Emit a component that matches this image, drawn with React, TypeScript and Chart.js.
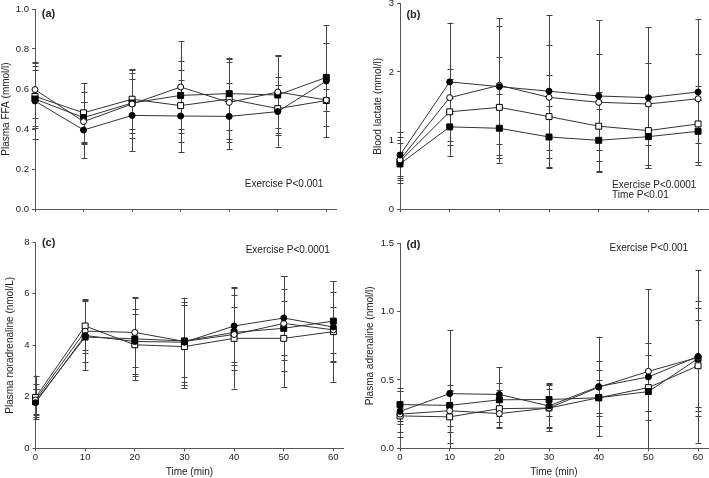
import React, { useEffect, useRef } from "react";
import { Chart, registerables } from "chart.js";

Chart.register(...registerables);

const FONT = "'Liberation Sans', Arial, Helvetica, sans-serif";
const TEXT = "#222222";
const AXIS = "#555555";

// Time points (min)
const timePoints = [0, 10, 20, 30, 40, 50, 60];
const xTickValues = [0, 10, 20, 30, 40, 50, 60];

// (a) Plasma FFA (mmol/l)
const ffaFilledCircle = [0.54, 0.395, 0.468, 0.465, 0.463, 0.487, 0.64];
const ffaFilledCircleErr = [0.19, 0.14, 0.18, 0.18, 0.165, 0.175, 0.28];
const ffaOpenCircle = [0.597, 0.437, 0.525, 0.61, 0.533, 0.585, 0.545];
const ffaOpenCircleErr = [0.14, 0.1, 0.17, 0.23, 0.2, 0.18, 0.055];
const ffaFilledSquare = [0.55, 0.457, 0.53, 0.568, 0.577, 0.57, 0.658];
const ffaFilledSquareErr = [0.145, 0.13, 0.15, 0.17, 0.18, 0.2, 0.17];
const ffaOpenSquare = [0.563, 0.481, 0.549, 0.517, 0.55, 0.502, 0.542];
const ffaOpenSquareErr = [0.15, 0.15, 0.15, 0.18, 0.2, 0.12, 0.125];

// (b) Blood lactate (mmol/l)
const lacFilledCircle = [0.79, 1.855, 1.786, 1.72, 1.65, 1.626, 1.709];
const lacFilledCircleErr = [0.34, 0.865, 1.0, 1.11, 1.1, 1.03, 1.06];
const lacOpenCircle = [0.72, 1.626, 1.806, 1.63, 1.558, 1.534, 1.61];
const lacOpenCircleErr = [0.34, 0.42, 0.86, 0.76, 0.7, 0.6, 0.65];
const lacFilledSquare = [0.66, 1.2, 1.18, 1.053, 1.005, 1.058, 1.136];
const lacFilledSquareErr = [0.18, 0.42, 0.5, 0.45, 0.45, 0.45, 0.45];
const lacOpenSquare = [0.7, 1.42, 1.485, 1.35, 1.21, 1.146, 1.243];
const lacOpenSquareErr = [0.27, 0.48, 0.74, 0.6, 0.5, 0.5, 0.55];

// (c) Plasma noradrenaline (nmol/L)
const norFilledCircle = [1.77, 4.38, 4.15, 4.12, 4.75, 5.06, 4.71];
const norFilledCircleErr = [0.55, 1.35, 1.25, 1.55, 1.5, 1.62, 1.35];
const norOpenCircle = [1.88, 4.55, 4.5, 4.15, 4.42, 4.85, 4.6];
const norOpenCircleErr = [0.6, 1.2, 1.36, 1.7, 1.05, 1.83, 0.9];
const norFilledSquare = [1.82, 4.32, 4.25, 4.17, 4.5, 4.66, 4.94];
const norFilledSquareErr = [0.5, 0.5, 1.6, 1.4, 1.45, 1.05, 1.56];
const norOpenSquare = [1.97, 4.75, 4.02, 3.95, 4.27, 4.27, 4.53];
const norOpenSquareErr = [0.85, 1.05, 1.2, 1.6, 1.95, 1.9, 1.95];

// (d) Plasma adrenaline (nmol/l)
const adrFilledCircle = [0.27, 0.4, 0.394, 0.31, 0.452, 0.522, 0.672];
const adrFilledCircleErr = [0.15, 0.465, 0.2, 0.16, 0.365, 0.25, 0.632];
const adrOpenCircle = [0.25, 0.275, 0.254, 0.295, 0.447, 0.563, 0.665];
const adrOpenCircleErr = [0.17, 0.155, 0.1, 0.14, 0.19, 0.6, 0.36];
const adrFilledSquare = [0.32, 0.314, 0.355, 0.357, 0.37, 0.415, 0.657];
const adrFilledSquareErr = [0.12, 0.15, 0.12, 0.12, 0.205, 0.14, 0.418];
const adrOpenSquare = [0.237, 0.23, 0.29, 0.295, 0.37, 0.444, 0.604];
const adrOpenSquareErr = [0.06, 0.19, 0.14, 0.17, 0.13, 0.24, 0.334];

type Note = { text: string; x: number; y: number; align: CanvasTextAlign; bold?: boolean };

type PanelDef = {
  key: string;
  left: number;
  top: number;
  width: number;
  height: number;
  yAxisWidth: number;
  xAxisHeight: number;
  padTop: number;
  padRight: number;
  yMin: number;
  yMax: number;
  yStep: number;
  yDecimals: number;
  yTitle: string;
  yTitlePad: number;
  showX: boolean;
  series: { values: number[]; errors: number[] }[];
  notes: Note[];
};

const markerStyles = [
  { pointStyle: "circle", fill: "#000000", radius: 3 },
  { pointStyle: "circle", fill: "#ffffff", radius: 3 },
  { pointStyle: "rect", fill: "#000000", radius: 4.2 },
  { pointStyle: "rect", fill: "#ffffff", radius: 4.2 },
];

const panels: PanelDef[] = [
  {
    key: "a", left: 0, top: 0, width: 354, height: 235,
    yAxisWidth: 35, xAxisHeight: 26, padTop: 9, padRight: 18,
    yMin: 0, yMax: 1, yStep: 0.2, yDecimals: 1,
    yTitle: "Plasma FFA (mmol/l)", yTitlePad: 0, showX: false,
    series: [
      { values: ffaFilledCircle, errors: ffaFilledCircleErr },
      { values: ffaOpenCircle, errors: ffaOpenCircleErr },
      { values: ffaFilledSquare, errors: ffaFilledSquareErr },
      { values: ffaOpenSquare, errors: ffaOpenSquareErr },
    ],
    notes: [
      { text: "(a)", x: 1.4, y: 0.975, align: "left", bold: true },
      { text: "Exercise P<0.001", x: 59.4, y: 0.125, align: "right" },
    ],
  },
  {
    key: "b", left: 355, top: 0, width: 354, height: 235,
    yAxisWidth: 45, xAxisHeight: 25.7, padTop: 3.3, padRight: 1,
    yMin: 0, yMax: 3, yStep: 1, yDecimals: 0,
    yTitle: "Blood lactate (mmol/l)", yTitlePad: 17, showX: false,
    series: [
      { values: lacFilledCircle, errors: lacFilledCircleErr },
      { values: lacOpenCircle, errors: lacOpenCircleErr },
      { values: lacFilledSquare, errors: lacFilledSquareErr },
      { values: lacOpenSquare, errors: lacOpenSquareErr },
    ],
    notes: [
      { text: "(b)", x: 1.3, y: 2.83, align: "left", bold: true },
      { text: "Exercise P<0.0001", x: 42.7, y: 0.354, align: "left" },
      { text: "Time P<0.01", x: 42.7, y: 0.198, align: "left" },
    ],
  },
  {
    key: "c", left: 0, top: 235, width: 354, height: 243,
    yAxisWidth: 35.5, xAxisHeight: 29.7, padTop: 7.3, padRight: 10.7,
    yMin: 0, yMax: 8, yStep: 2, yDecimals: 0,
    yTitle: "Plasma noradrenaline (nmol/L)", yTitlePad: 4, showX: true,
    series: [
      { values: norFilledCircle, errors: norFilledCircleErr },
      { values: norOpenCircle, errors: norOpenCircleErr },
      { values: norFilledSquare, errors: norFilledSquareErr },
      { values: norOpenSquare, errors: norOpenSquareErr },
    ],
    notes: [
      { text: "(c)", x: 1.3, y: 7.97, align: "left", bold: true },
      { text: "Exercise P<0.0001", x: 59.3, y: 7.7, align: "right" },
    ],
  },
  {
    key: "d", left: 355, top: 235, width: 354, height: 243,
    yAxisWidth: 45, xAxisHeight: 29.7, padTop: 8.3, padRight: 1,
    yMin: 0, yMax: 1.5, yStep: 0.5, yDecimals: 1,
    yTitle: "Plasma adrenaline (nmol/l)", yTitlePad: 9, showX: true,
    series: [
      { values: adrFilledCircle, errors: adrFilledCircleErr },
      { values: adrOpenCircle, errors: adrOpenCircleErr },
      { values: adrFilledSquare, errors: adrFilledSquareErr },
      { values: adrOpenSquare, errors: adrOpenSquareErr },
    ],
    notes: [
      { text: "(d)", x: 1.3, y: 1.487, align: "left", bold: true },
      { text: "Exercise P<0.001", x: 58.0, y: 1.466, align: "right" },
    ],
  },
];

const errorBarPlugin = {
  id: "errorBars",
  beforeDatasetsDraw(chart: any) {
    const { ctx, scales } = chart;
    const xs = scales.x;
    const ys = scales.y;
    ctx.save();
    ctx.strokeStyle = "#444444";
    ctx.lineWidth = 1;
    chart.data.datasets.forEach((ds: any) => {
      const errs: number[] = ds.errorBars || [];
      ds.data.forEach((pt: any, i: number) => {
        const e = errs[i];
        if (e == null) return;
        const hi = pt.y + e;
        const lo = pt.y - e;
        const px = Math.round(xs.getPixelForValue(pt.x)) + 0.5;
        const yHi = ys.getPixelForValue(Math.min(hi, ys.max));
        const yLo = ys.getPixelForValue(Math.max(lo, ys.min));
        ctx.beginPath();
        ctx.moveTo(px, yHi);
        ctx.lineTo(px, yLo);
        if (hi <= ys.max) {
          const yy = Math.round(yHi) + 0.5;
          ctx.moveTo(px - 3, yy);
          ctx.lineTo(px + 3, yy);
        }
        if (lo >= ys.min) {
          const yy = Math.round(yLo) + 0.5;
          ctx.moveTo(px - 3, yy);
          ctx.lineTo(px + 3, yy);
        }
        ctx.stroke();
      });
    });
    ctx.restore();
  },
};

const notesPlugin = {
  id: "panelNotes",
  afterDraw(chart: any, _args: any, opts: any) {
    const notes: Note[] = opts.notes || [];
    const { ctx, scales } = chart;
    ctx.save();
    ctx.fillStyle = TEXT;
    ctx.textBaseline = "middle";
    notes.forEach((n) => {
      ctx.font = n.bold ? `bold 11px ${FONT}` : `10px ${FONT}`;
      ctx.textAlign = n.align;
      ctx.fillText(n.text, scales.x.getPixelForValue(n.x), scales.y.getPixelForValue(n.y));
    });
    ctx.restore();
  },
};

function Panel({ def }: { def: PanelDef }) {
  const ref = useRef<HTMLCanvasElement | null>(null);

  useEffect(() => {
    if (!ref.current) return;
    const datasets = def.series.map((s, si) => {
      const m = markerStyles[si];
      return {
        data: timePoints.map((t, i) => ({ x: t, y: s.values[i] })),
        errorBars: s.errors,
        borderColor: "#333333",
        borderWidth: 1,
        pointStyle: m.pointStyle,
        pointRadius: m.radius,
        pointHoverRadius: m.radius,
        pointBackgroundColor: m.fill,
        pointBorderColor: "#000000",
        pointBorderWidth: 1,
        fill: false,
        tension: 0,
        clip: false,
      };
    });

    const chart = new Chart(ref.current, {
      type: "line",
      data: { datasets } as any,
      plugins: [errorBarPlugin, notesPlugin],
      options: {
        animation: false,
        responsive: false,
        maintainAspectRatio: false,
        events: [],
        layout: {
          autoPadding: false,
          padding: { top: def.padTop, right: def.padRight, left: 0, bottom: 0 },
        },
        plugins: {
          legend: { display: false },
          tooltip: { enabled: false },
          panelNotes: { notes: def.notes },
        } as any,
        scales: {
          x: {
            type: "linear",
            min: 0,
            max: 62,
            afterBuildTicks: (s: any) => {
              s.ticks = xTickValues.map((v) => ({ value: v }));
            },
            afterFit: (s: any) => {
              s.height = def.xAxisHeight;
              s.paddingLeft = 0;
              s.paddingRight = 0;
            },
            ticks: {
              display: def.showX,
              autoSkip: false,
              maxRotation: 0,
              padding: 0,
              color: TEXT,
              font: { family: FONT, size: 9.5 },
              callback: (v: any) => String(v),
            },
            grid: { drawOnChartArea: false, tickLength: 3, color: AXIS },
            border: { color: AXIS, width: 1 },
            title: {
              display: def.showX,
              text: "Time (min)",
              color: TEXT,
              font: { family: FONT, size: 10 },
              padding: { top: 0, bottom: 0 },
            },
          },
          y: {
            type: "linear",
            min: def.yMin,
            max: def.yMax,
            afterFit: (s: any) => {
              s.width = def.yAxisWidth;
              s.paddingTop = 0;
              s.paddingBottom = 0;
            },
            ticks: {
              stepSize: def.yStep,
              padding: 3,
              color: TEXT,
              font: { family: FONT, size: 9.5 },
              callback: (v: any) => Number(v).toFixed(def.yDecimals),
            },
            grid: { drawOnChartArea: false, tickLength: 3, color: AXIS },
            border: { color: AXIS, width: 1 },
            title: {
              display: true,
              text: def.yTitle,
              color: TEXT,
              font: { family: FONT, size: 10 },
              padding: { top: def.yTitlePad, bottom: 0 },
            },
          },
        },
      } as any,
    });
    return () => chart.destroy();
  }, [def]);

  return (
    <canvas
      ref={ref}
      width={def.width}
      height={def.height}
      style={{
        position: "absolute",
        left: def.left,
        top: def.top,
        width: def.width,
        height: def.height,
      }}
    />
  );
}

export default function App() {
  return (
    <div
      style={{
        position: "absolute",
        left: 0,
        top: 0,
        width: 709,
        height: 478,
        background: "#ffffff",
        overflow: "hidden",
      }}
    >
      {panels.map((p) => (
        <Panel key={p.key} def={p} />
      ))}
    </div>
  );
}
